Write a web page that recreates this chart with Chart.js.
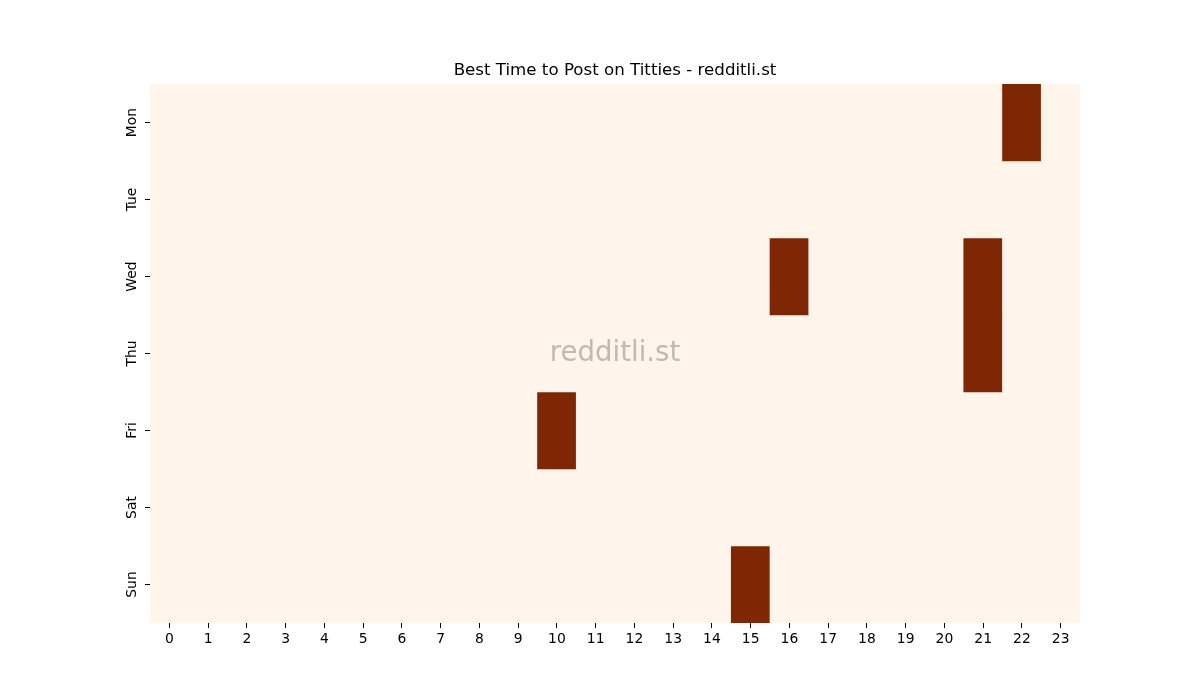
<!DOCTYPE html>
<html>
<head>
<meta charset="utf-8">
<script src="https://cdn.jsdelivr.net/npm/chart.js@4/dist/chart.umd.min.js"></script>
<style>
  html, body { margin: 0; padding: 0; background: #fff; }
  #wrap { width: 1200px; height: 700px; }
</style>
</head>
<body>
<div id="wrap"><canvas id="heat"></canvas></div>
<script>
// datos
const days = ["Mon", "Tue", "Wed", "Thu", "Fri", "Sat", "Sun"];
const hours = ["0","1","2","3","4","5","6","7","8","9","10","11","12","13","14","15","16","17","18","19","20","21","22","23"];

// 1 = mejor hora, 0 = resto
const monVals = [0,0,0,0,0,0,0,0,0,0,0,0,0,0,0,0,0,0,0,0,0,0,1,0];
const tueVals = [0,0,0,0,0,0,0,0,0,0,0,0,0,0,0,0,0,0,0,0,0,0,0,0];
const wedVals = [0,0,0,0,0,0,0,0,0,0,0,0,0,0,0,0,1,0,0,0,0,1,0,0];
const thuVals = [0,0,0,0,0,0,0,0,0,0,0,0,0,0,0,0,0,0,0,0,0,1,0,0];
const friVals = [0,0,0,0,0,0,0,0,0,0,1,0,0,0,0,0,0,0,0,0,0,0,0,0];
const satVals = [0,0,0,0,0,0,0,0,0,0,0,0,0,0,0,0,0,0,0,0,0,0,0,0];
const sunVals = [0,0,0,0,0,0,0,0,0,0,0,0,0,0,0,1,0,0,0,0,0,0,0,0];

const rows = [monVals, tueVals, wedVals, thuVals, friVals, satVals, sunVals];

const LOW = [255, 245, 235];   // Oranges min
const HIGH = [127, 39, 4];     // Oranges max

function cellColor(v) {
  const c = LOW.map((l, i) => Math.round(l + (HIGH[i] - l) * v));
  return `rgb(${c[0]},${c[1]},${c[2]})`;
}

// una serie por día: barras flotantes [fila, fila+1]
const datasets = rows.map((vals, r) => ({
  label: days[r],
  data: vals.map(() => [r, r + 1]),
  backgroundColor: vals.map(cellColor),
  borderWidth: 0,
  grouped: false,
  barPercentage: 1,
  categoryPercentage: 1
}));

const watermark = {
  id: "watermark",
  afterDatasetsDraw(chart) {
    const { ctx, chartArea: a } = chart;
    ctx.save();
    ctx.font = "27.6px 'DejaVu Sans'";
    ctx.fillStyle = "rgba(128,128,128,0.5)";
    ctx.textAlign = "center";
    ctx.textBaseline = "middle";
    ctx.fillText("redditli.st", (a.left + a.right) / 2, (a.top + a.bottom) / 2);
    ctx.restore();
  }
};

const tickFont = { family: "DejaVu Sans", size: 13.9 };

new Chart(document.getElementById("heat").getContext("2d"), {
  type: "bar",
  data: { labels: hours, datasets },
  options: {
    responsive: true,
    maintainAspectRatio: false,
    animation: false,
    layout: { padding: { left: 30, right: 0, top: 0, bottom: 0 } },
    plugins: {
      legend: { display: false },
      tooltip: { enabled: false },
      title: {
        display: true,
        text: "Best Time to Post on Titties - redditli.st",
        color: "#000",
        font: { family: "DejaVu Sans", size: 16.67, weight: "normal" },
        padding: { top: 61, bottom: 3 }
      }
    },
    scales: {
      x: {
        offset: true,
        grid: { display: true, drawOnChartArea: false, drawTicks: true, tickLength: 5, color: "#000", offset: false },
        border: { display: false },
        ticks: { color: "#000", font: tickFont, padding: 3, maxRotation: 0, autoSkip: false },
        afterFit(s) { s.height = 77; }
      },
      y: {
        type: "linear",
        reverse: true,
        min: 0,
        max: 7,
        afterBuildTicks(s) { s.ticks = days.map((d, i) => ({ value: i + 0.5 })); },
        grid: { display: true, drawOnChartArea: false, drawTicks: true, tickLength: 5, color: "#000" },
        border: { display: false },
        ticks: {
          color: "#000",
          font: tickFont,
          padding: -3,
          crossAlign: "center",
          minRotation: 90,
          maxRotation: 90,
          callback: (v) => days[Math.floor(v)]
        },
        afterFit(s) { s.width = 120; }
      },
      // eje vacío a la derecha para dejar el margen
      yRight: {
        type: "linear",
        position: "right",
        display: true,
        grid: { display: false },
        border: { display: false },
        ticks: { display: false },
        afterFit(s) { s.width = 120; }
      }
    }
  },
  plugins: [watermark]
});
</script>
</body>
</html>
